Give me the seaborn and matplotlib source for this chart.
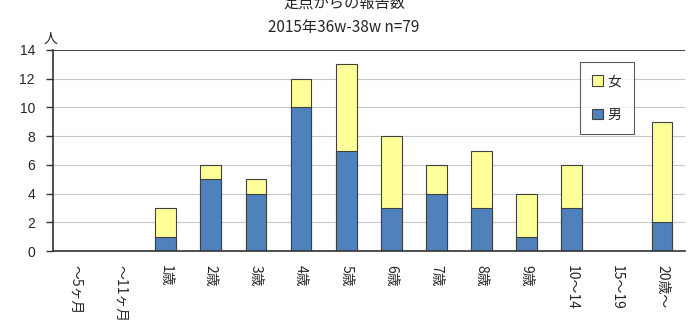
import matplotlib
matplotlib.use("Agg")
import matplotlib.pyplot as plt
import seaborn as sns
import pandas as pd
import numpy as np

categories = ["～5ヶ月", "～11ヶ月", "1歳", "2歳", "3歳", "4歳", "5歳", "6歳", "7歳",
              "8歳", "9歳", "10～14", "15～19", "20歳～"]
male = [0, 0, 1, 5, 4, 10, 7, 3, 4, 3, 1, 3, 0, 2]
female = [0, 0, 2, 1, 1, 2, 6, 5, 2, 4, 3, 3, 0, 7]
yticks = [0, 2, 4, 6, 8, 10, 12, 14]

df = pd.DataFrame({"age": categories, "male": male, "female": female})
df["total"] = df["male"] + df["female"]

sns.set_style("white")
plt.rcParams["font.family"] = ["Noto Sans CJK JP", "DejaVu Sans"]

fig = plt.figure(figsize=(6.88, 3.33), dpi=100)
ax = fig.add_axes([0.077, 0.246, 0.918, 0.604])

col_f = "#FFFF99"
col_m = "#4F81BD"
sns.barplot(data=df, x="age", y="total", color=col_f, width=0.46,
            edgecolor="#404040", linewidth=0.8, ax=ax, label="女", saturation=1)
sns.barplot(data=df, x="age", y="male", color=col_m, width=0.46,
            edgecolor="#404040", linewidth=0.8, ax=ax, label="男", saturation=1)

ax.set_ylim(0, 14)
ax.set_xlim(-0.5, len(categories) - 0.5)
ax.set_yticks(yticks)
ax.set_yticklabels([str(v) for v in yticks], fontsize=10, family=["Liberation Sans", "DejaVu Sans"])
ax.yaxis.grid(True, color="#c8c8c8", linewidth=0.8)
ax.set_axisbelow(True)
ax.set_xlabel("")
ax.set_ylabel("")

ax.set_xticks(np.arange(len(categories)))
ax.set_xticklabels(categories, rotation=-90, fontsize=10, va="top")
ax.tick_params(axis="x", length=0, pad=10)
ax.set_xticks(np.arange(-0.5, len(categories), 1.0), minor=True)
ax.tick_params(axis="x", which="minor", length=5, width=1, color="#333333", direction="out")
ax.tick_params(axis="y", length=5, width=1, color="#333333", direction="out", left=True, pad=8)

for side in ["left", "bottom"]:
    ax.spines[side].set_color("#333333")
    ax.spines[side].set_linewidth(1.2)
ax.spines["top"].set_visible(False)
ax.spines["right"].set_visible(False)
ax.axhline(14, color="#333333", linewidth=1.2)

handles, labels = ax.get_legend_handles_labels()
leg = ax.legend(handles, labels, loc="upper right", bbox_to_anchor=(0.92, 0.94),
                borderaxespad=0, fontsize=10, frameon=True, fancybox=False,
                edgecolor="#333333", handlelength=0.8, handleheight=0.8,
                labelspacing=1.4, borderpad=0.9, handletextpad=0.3)
leg.get_frame().set_linewidth(0.8)

fig.text(0.5, 0.99, "定点からの報告数", ha="center", va="center", fontsize=11)
fig.text(0.5, 0.918, "2015年36w-38w n=79", ha="center", va="center", fontsize=11)
fig.text(0.074, 0.885, "人", ha="center", va="center", fontsize=10)

fig.savefig("out.png", dpi=100)
